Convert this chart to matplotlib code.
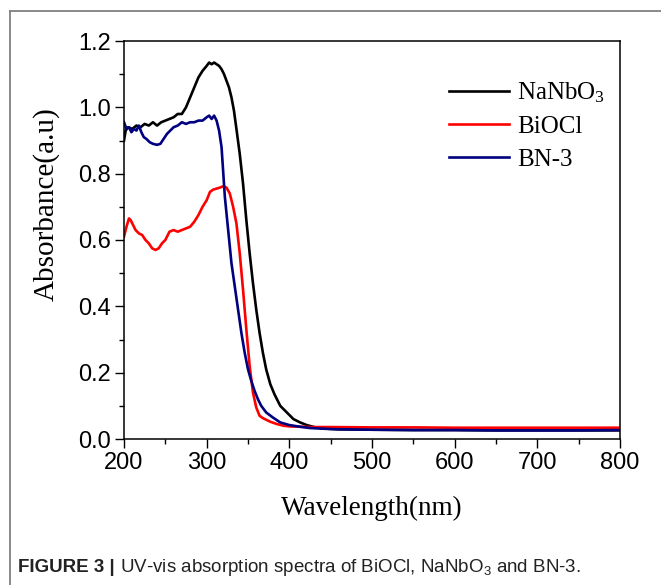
import matplotlib
matplotlib.use("Agg")
import matplotlib.pyplot as plt
from matplotlib.lines import Line2D
from matplotlib.ticker import MultipleLocator
from matplotlib import font_manager

# ---------------- data ----------------
wl_nanbo3 = [200, 202, 205, 210, 215, 220, 225, 230, 235, 240, 245, 250, 255, 260, 265, 270,
             275, 280, 285, 290, 295, 300, 303, 306, 309, 312, 315, 318, 321, 324, 327, 330,
             333, 336, 340, 344, 348, 352, 356, 360, 364, 368, 372, 377, 382, 389, 395, 405,
             413, 421, 430, 440, 460, 500, 550, 600, 650, 700, 750, 800]
abs_nanbo3 = [0.90, 0.93, 0.94, 0.935, 0.945, 0.94, 0.95, 0.945, 0.955, 0.945, 0.955, 0.96,
              0.965, 0.97, 0.98, 0.98, 1.00, 1.03, 1.06, 1.09, 1.11, 1.125, 1.135, 1.13,
              1.135, 1.13, 1.125, 1.115, 1.10, 1.08, 1.06, 1.03, 0.99, 0.935, 0.86, 0.77,
              0.66, 0.56, 0.47, 0.39, 0.32, 0.26, 0.21, 0.165, 0.135, 0.10, 0.085, 0.06,
              0.05, 0.042, 0.036, 0.032, 0.029, 0.028, 0.027, 0.027, 0.026, 0.026, 0.026, 0.026]

wl_biocl = [200, 203, 206, 208, 211, 214, 218, 222, 226, 230, 234, 238, 242, 246, 250, 255,
            260, 265, 270, 275, 280, 285, 290, 295, 300, 304, 308, 312, 316, 320, 324, 328,
            332, 336, 340, 344, 348, 352, 356, 360, 364, 368, 372, 377, 385, 393, 400, 425,
            450, 500, 550, 600, 650, 700, 750, 800]
abs_biocl = [0.61, 0.64, 0.665, 0.66, 0.645, 0.63, 0.62, 0.615, 0.60, 0.59, 0.575, 0.57,
             0.575, 0.59, 0.60, 0.625, 0.63, 0.625, 0.63, 0.635, 0.64, 0.655, 0.675, 0.70,
             0.72, 0.745, 0.752, 0.755, 0.758, 0.762, 0.758, 0.74, 0.70, 0.65, 0.56, 0.45,
             0.33, 0.22, 0.14, 0.095, 0.07, 0.063, 0.058, 0.052, 0.045, 0.040, 0.038, 0.036,
             0.036, 0.035, 0.035, 0.034, 0.034, 0.034, 0.034, 0.034]

wl_bn3 = [200, 203, 206, 209, 212, 215, 218, 221, 224, 227, 231, 235, 240, 244, 248, 252,
          256, 260, 265, 270, 275, 280, 285, 290, 295, 300, 303, 306, 309, 312, 315, 318,
          322, 326, 330, 334, 338, 342, 346, 350, 354, 358, 362, 366, 372, 380, 389, 400,
          413, 425, 450, 500, 550, 600, 650, 700, 750, 800]
abs_bn3 = [0.955, 0.935, 0.94, 0.925, 0.935, 0.93, 0.945, 0.925, 0.91, 0.905, 0.895, 0.89,
           0.887, 0.89, 0.905, 0.92, 0.93, 0.94, 0.945, 0.955, 0.95, 0.955, 0.955, 0.96,
           0.96, 0.97, 0.975, 0.965, 0.975, 0.96, 0.93, 0.88, 0.73, 0.63, 0.53, 0.46,
           0.39, 0.32, 0.26, 0.21, 0.175, 0.145, 0.12, 0.10, 0.08, 0.065, 0.05, 0.042,
           0.037, 0.033, 0.030, 0.028, 0.027, 0.027, 0.026, 0.026, 0.026, 0.027]

series_names = ["NaNbO$_3$", "BiOCl", "BN-3"]
series_colors = ["#000000", "#ff0000", "#000080"]
x_ticks = [200, 300, 400, 500, 600, 700, 800]
y_ticks = [0.0, 0.2, 0.4, 0.6, 0.8, 1.0, 1.2]
x_label = "Wavelength(nm)"
y_label = "Absorbance(a.u)"
caption_bold = "FIGURE 3 |"
caption_text = " UV-vis absorption spectra of BiOCl, NaNbO$_3$ and BN-3."

# ---------------- style ----------------
plt.rcParams["mathtext.default"] = "regular"
SANS = "Liberation Sans"
SERIF = "Liberation Serif"
CAPFONT = SANS

W, H = 661, 585
fig = plt.figure(figsize=(W / 100, H / 100), dpi=100)

def px(x, y):
    return x / W, 1 - y / H

L, R, T, B = 124, 620, 41, 439
ax = fig.add_axes([L / W, 1 - B / H, (R - L) / W, (B - T) / H])

for wl, a, name, c in zip([wl_nanbo3, wl_biocl, wl_bn3],
                          [abs_nanbo3, abs_biocl, abs_bn3],
                          series_names, series_colors):
    ax.plot(wl, a, color=c, lw=1.9, label=name, solid_joinstyle="round")

ax.set_xlim(200, 800)
ax.set_ylim(0, 1.2)
ax.set_xticks(x_ticks)
ax.set_yticks(y_ticks)
ax.set_xticklabels([str(v) for v in x_ticks])
ax.set_yticklabels([f"{v:.1f}" for v in y_ticks])
ax.xaxis.set_minor_locator(MultipleLocator(50))
ax.yaxis.set_minor_locator(MultipleLocator(0.1))
ax.tick_params(which="major", direction="out", length=6.5, width=1.0, pad=3,
               labelsize=17, top=False, right=False)
ax.tick_params(which="minor", direction="out", length=3.5, width=1.0, top=False, right=False)
for lab in ax.get_xticklabels() + ax.get_yticklabels():
    lab.set_fontfamily(SANS)
for s in ax.spines.values():
    s.set_linewidth(1.1)

fig.text(*px(372, 508), x_label, family=SERIF, fontsize=19.5, ha="center", va="center")
fig.text(*px(46, 204), y_label, family=SERIF, fontsize=21, ha="center", va="center",
         rotation=90)

leg = ax.legend(loc="upper left", bbox_to_anchor=px(432, 63), bbox_transform=fig.transFigure,
                frameon=False, prop={"family": SERIF, "size": 18},
                handlelength=2.4, handletextpad=0.3, labelspacing=0.42, borderpad=0.2)
for h in leg.get_lines():
    h.set_linewidth(1.9)

# outer grey frame (left & top)
fig.add_artist(Line2D([10 / W, 10 / W], [0, 1 - 11 / H], transform=fig.transFigure,
                      color="#808080", lw=1.3))
fig.add_artist(Line2D([10 / W, 1], [1 - 11 / H, 1 - 11 / H], transform=fig.transFigure,
                      color="#808080", lw=1.3))

# caption
CAP_SIZE = 13.5
t1 = fig.text(*px(18, 567), caption_bold, family=CAPFONT, fontweight="bold", fontsize=CAP_SIZE,
              ha="left", va="center", color="#222222")
fig.canvas.draw()
r = fig.canvas.get_renderer()
bb = t1.get_window_extent(r)
t2 = fig.text(bb.x1 / W, 1 - 567 / H, caption_text, family=CAPFONT, fontsize=CAP_SIZE,
              ha="left", va="center", color="#222222")

fig.savefig("out.png", dpi=100)
